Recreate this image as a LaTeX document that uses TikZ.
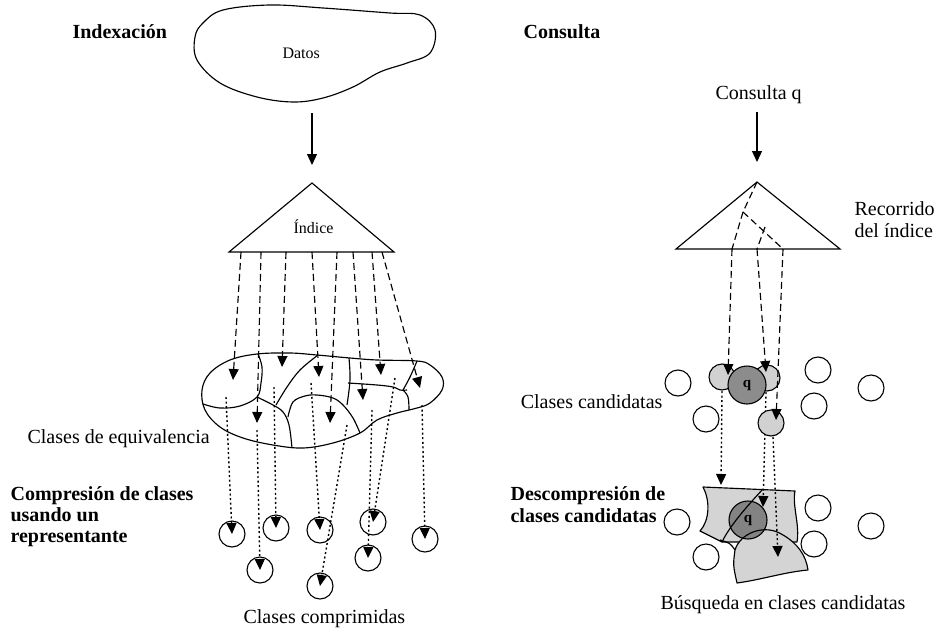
\documentclass[tikz,border=0pt]{standalone}
\usepackage{fontspec}
\setmainfont{Liberation Serif}
\usetikzlibrary{arrows.meta,calc}
\begin{document}
\begin{tikzpicture}[x=1pt,y=-1pt,
  line width=1.15pt,
  tip/.style={-{Triangle[width=10pt,length=11pt]}},
  dasharr/.style={tip, dash pattern=on 7pt off 4pt},
  dotarr/.style={tip, dash pattern=on 2pt off 2.6pt, line width=1.4pt},
  dashln/.style={dash pattern=on 7pt off 4pt},
  lbl/.style={font=\fontsize{20}{22}\selectfont, inner sep=0pt},
  head/.style={font=\fontsize{20}{22}\selectfont\bfseries, inner sep=0pt},
  small/.style={font=\fontsize{16}{19}\selectfont, inner sep=0pt},
  cls/.style={circle, draw, minimum size=26pt, inner sep=0pt, line width=1.1pt, fill=white},
  cand/.style={cls, fill=black!18},
  qnode/.style={circle, draw, minimum size=38pt, inner sep=0pt, line width=1.1pt,
    font=\fontsize{15}{15}\selectfont\bfseries},
  region/.style={draw, fill=black!17, line width=1.15pt, line join=round},
]
\useasboundingbox (0,0) rectangle (936,629);

% ---------------- Indexing side ----------------
\node[head, anchor=base west] (tIdx) at (72,38) {Indexación};

% data cloud
\draw plot[smooth cycle, tension=0.6] coordinates {(223,10) (270,5) (323,8) (390,13)
  (420,15) (435,30) (430,53) (407,63) (380,72) (353,87) (323,98) (293,102) (257,97)
  (220,83) (197,60) (195,37) (203,23)};
\node[small, anchor=base west] (datos) at (282,58) {Datos};

% index triangle
\coordinate (idxApex) at (312,183);
\draw (229,252) -- (idxApex) -- (394,252) -- cycle;
\node[small, anchor=base west] (idx) at (293,233) {Índice};

\coordinate (dBot) at (312,113);
\coordinate (idxTop) at (312,165);
\draw[tip] (dBot) -- (idxTop);

% equivalence classes
\draw plot[smooth cycle, tension=0.6] coordinates {(202,390) (210,373) (230,360) (257,354)
  (290,353) (317,355) (350,358) (377,360) (417,361) (430,365) (442,377) (442,390)
  (430,403) (417,408) (397,413) (377,420) (360,433) (333,443) (303,448) (273,445)
  (243,438) (220,427) (205,410)};
\draw plot[smooth, tension=0.6] coordinates {(258,354) (262,367) (261,383) (257,397) (240,406) (220,408) (203,404)};
\draw plot[smooth, tension=0.6] coordinates {(257,397) (273,405) (283,412) (289,425) (292,448)};
\draw plot[smooth, tension=0.6] coordinates {(318,355) (300,370) (287,387) (276,405)};
\draw plot[smooth, tension=0.6] coordinates {(288,417) (293,402) (305,396) (317,395) (333,398) (343,405) (353,418) (360,433)};
\draw plot[smooth, tension=0.6] coordinates {(349,358) (350,380) (347,405)};
\draw plot[smooth, tension=0.6] coordinates {(348,383) (377,385) (393,387) (400,390) (407,390)};
\draw plot[smooth, tension=0.6] coordinates {(417,361) (410,377) (403,390)};
\draw plot[smooth, tension=0.6] coordinates {(403,390) (408,397) (409,410)};

% index entries pointing into the classes
\foreach \n/\sx/\ex/\ey in {1/241/233/380, 2/261/257/423, 3/286/282/367, 4/312/319/377,
    5/337/330/423, 6/353/363/400, 7/372/381/375, 8/382/420/388} {
  \coordinate (ib\n) at (\sx,252);
  \coordinate (eq\n) at (\ex,\ey);
  \draw[dasharr] (ib\n) -- (eq\n);
}

% compressed classes
\foreach \n/\cx/\cy in {1/232/534, 2/276/528, 3/320/530, 4/373/522, 5/425/539,
    6/260/570, 7/368/558, 8/320/586}
  \node[cls] (cc\n) at (\cx,\cy) {};
\foreach \n/\sx/\sy in {1/226/397, 6/257/430, 2/274/387, 3/311/383, 8/347/425,
    4/395/378, 7/372/410, 5/422/405} {
  \coordinate (src\n) at (\sx,\sy);
  \draw[dotarr] (src\n) -- (cc\n.center);
}

\node[lbl, anchor=base west] (lEq) at (27,443) {Clases de equivalencia};
\node[head, anchor=base west] (lComp1) at (10,500) {Compresión de clases};
\node[head, anchor=base west] (lComp2) at (10,521) {usando un};
\node[head, anchor=base west] (lComp3) at (10,542) {representante};
\node[lbl, anchor=base west] (lCc) at (243,623) {Clases comprimidas};

% ---------------- Query side ----------------
\node[head, anchor=base west] (tCon) at (523,38) {Consulta};
\node[lbl, anchor=base west] (qry) at (715,99) {Consulta q};
\coordinate (qBot) at (757,112);
\coordinate (rTop) at (757,162);
\draw[tip] (qBot) -- (rTop);

\coordinate (rApex) at (757,182);
\draw (676,249) -- (rApex) -- (840,249) -- cycle;
\node[lbl, anchor=base west] (rec1) at (854,215) {Recorrido};
\node[lbl, anchor=base west] (rec2) at (854,237) {del índice};

% traversal paths inside the index
\coordinate (rJ) at (743,212);
\coordinate (rM) at (765,227);
\coordinate (rB1) at (732,249);
\coordinate (rB2) at (757,249);
\coordinate (rB3) at (783,249);
\draw[dashln] (rApex) -- (rJ) -- (rB1);
\draw[dashln] (rJ) -- (rB3);
\draw[dashln] (rM) -- (rB2);

% decompressed candidate classes
\draw[region] (703,487) -- (795,491) .. controls (792,505) and (800,525) .. (797,542)
  -- (722,542) .. controls (712,537) .. (700,531)
  .. controls (710,520) and (710,500) .. (703,487) -- cycle;
\draw[region] (737,583) .. controls (733,565) .. (735,550)
  .. controls (740,533) and (765,523) .. (783,535)
  .. controls (797,543) and (806,555) .. (808,570)
  .. controls (785,572) and (760,580) .. (737,583) -- cycle;
\draw (735,550) .. controls (730,543) .. (720,540);
\draw (763,489) .. controls (750,503) and (730,525) .. (722,542);
\node[qnode, fill=black, fill opacity=0.38, text opacity=1] (q2) at (748,520) {q};

% candidate classes
\coordinate (d1) at (722,391);
\coordinate (d2) at (766,392);
\coordinate (d3) at (773,437);
\coordinate (t1) at (721,485);
\coordinate (t2) at (763,507);
\coordinate (t3) at (778,557);
\draw[dotarr] (d1) -- (t1);
\draw[dotarr] (d2) -- (t2);
\draw[dotarr] (d3) -- (t3);

\node[cand] (k1) at (722,377) {};
\node[cand] (k2) at (767,378) {};
\node[cand] (k3) at (771,423) {};
\node[qnode, fill=black!45] (q1) at (747,385) {q};

\foreach \n/\cx/\cy in {1/678/383, 2/706/419, 3/818/370, 4/814/406, 5/871/388}
  \node[cls] (wa\n) at (\cx,\cy) {};
\foreach \n/\cx/\cy in {1/677/522, 2/706/557, 3/818/508, 4/814/544, 5/871/526}
  \node[cls] (wb\n) at (\cx,\cy) {};

\coordinate (h1) at (728,375);
\coordinate (h2) at (766,372);
\coordinate (h3) at (776,420);
\draw[dasharr] (rB1) -- (h1);
\draw[dasharr] (rB2) -- (h2);
\draw[dasharr] (rB3) -- (h3);

\node[lbl, anchor=base east] (lCand) at (663,408) {Clases candidatas};
\node[head, anchor=base west] (lDec1) at (510,500) {Descompresión de};
\node[head, anchor=base west] (lDec2) at (510,522) {clases candidatas};
\node[lbl, anchor=base west] (lBus) at (660,609) {Búsqueda en clases candidatas};
\end{tikzpicture}
\end{document}
